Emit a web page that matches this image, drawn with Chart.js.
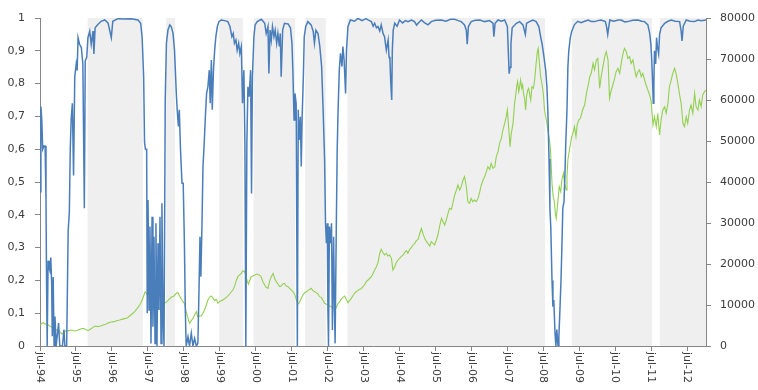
<!DOCTYPE html>
<html>
<head>
<meta charset="utf-8">
<script src="https://cdn.jsdelivr.net/npm/chart.js@4.4.1/dist/chart.umd.min.js"></script>
<style>
html,body{margin:0;padding:0;background:#ffffff;}
#wrap{width:758px;height:390px;position:relative;}
</style>
</head>
<body>
<div id="wrap"><canvas id="c" width="758" height="390"></canvas></div>
<script>
// x unit: months since July 1994
const xTickMonths = [0,12,24,36,48,60,72,84,96,108,120,132,144,156,168,180,192,204,216];
const xTickLabels = ['jul-94','jul-95','jul-96','jul-97','jul-98','jul-99','jul-00','jul-01','jul-02','jul-03','jul-04','jul-05','jul-06','jul-07','jul-08','jul-09','jul-10','jul-11','jul-12'];
const xMaxMonth = 222.3;
const leftTickLabels = ['0','0,1','0,2','0,3','0,4','0,5','0,6','0,7','0,8','0,9','1'];
const rightTickLabels = ['0','10000','20000','30000','40000','50000','60000','70000','80000'];

// shaded regime periods (months since July 1994)
const bandStart = [15.8, 42.1, 59.8, 71.3, 88.5, 102.6, 177.5, 206.9];
const bandEnd   = [34.3, 45.1, 67.7, 85.1, 95.4, 168.6, 204.3, 222.3];

// blue series (left axis): [month, value]
const blueSeries = [
[0,0.47],[0.3,0.73],[0.6,0.69],[0.9,0.6],[1.3,0.61],[1.7,0.61],[2.0,0.45],[2.2,0.18],[2.4,0],[2.7,0.26],
[3.0,0.24],[3.3,0.23],[3.6,0.27],[3.9,0.19],[4.1,0.03],[4.4,0.21],[4.7,0],[5.0,0.09],[5.4,0],[6.2,0.07],
[6.6,0],[7.5,0],[8.0,0.05],[8.3,0],[8.9,0],
[9.4,0.35],[9.8,0.41],[10.1,0.6],[10.4,0.69],[10.8,0.74],[11.2,0.52],[11.6,0.82],[12.1,0.86],[12.4,0.84],[12.7,0.94],
[13.2,0.92],[13.8,0.91],[14.3,0.86],[14.8,0.42],[15.1,0.87],[15.6,0.88],[16.0,0.94],[16.6,0.96],[17.1,0.92],[17.7,0.96],
[18.0,0.89],[18.4,0.97],[19.3,0.98],[20.4,0.99],[21.6,0.994],[22.7,0.985],[23.2,0.965],[23.8,0.94],[24.3,0.99],[26.0,0.998],
[28.2,0.997],[30.4,0.998],[32.7,0.994],[33.6,0.984],[34.1,0.94],[34.6,0.82],[34.9,0.62],[35.2,0.6],[35.6,0.6],[35.8,0.1],
[36.05,0.445],[36.4,0.11],[36.7,0.364],[37.05,0.008],[37.4,0.394],[37.7,0.059],[38.05,0.333],[38.4,0.008],[38.7,0.374],[39.05,0],
[39.4,0.313],[39.7,0.11],[40.05,0.394],[40.4,0.008],[40.7,0.435],[41.05,0.11],[41.4,0],[41.8,0.75],[42.2,0.923],[42.7,0.963],
[43.3,0.979],[43.8,0.974],[44.4,0.953],[44.9,0.902],[45.5,0.77],[45.8,0.72],[46.2,0.669],[46.5,0.72],[46.9,0.598],[47.4,0.496],
[47.8,0.496],[48.2,0.313],[48.5,0.11],[48.8,0],[49.4,0.028],[49.9,0],[50.5,0.039],[51.05,0],[51.6,0.023],[52.2,0],
[52.7,0.008],[53.05,0.161],[53.4,0.333],[53.7,0.211],[54.05,0.364],[54.4,0.547],[54.7,0.598],[55.2,0.699],[55.6,0.77],[56.05,0.791],
[56.5,0.841],[56.8,0.74],[57.2,0.872],[57.5,0.72],[57.9,0.841],[58.3,0.902],[58.7,0.943],[59.2,0.974],[59.7,0.989],[60.5,0.994],
[61.6,0.992],[62.7,0.989],[63.4,0.974],[64.05,0.943],[64.5,0.953],[64.9,0.923],[65.4,0.933],[65.8,0.902],[66.3,0.923],[66.7,0.892],
[67.2,0.913],[67.6,0.74],[68.05,0.841],[68.4,0.618],[68.7,0],[69.05,0.618],[69.4,0.79],[69.8,0.76],[70.3,0.841],[70.6,0.465],
[70.9,0.821],[71.4,0.943],[71.8,0.979],[72.5,0.989],
[73.9,0.996],[75.0,0.984],[75.5,0.953],[76.1,0.974],[76.4,0.831],[76.8,0.963],[77.2,0.933],[77.6,0.974],[78.1,0.943],[78.5,0.963],
[79.0,0.923],[79.4,0.953],[79.9,0.913],[80.2,0.953],[80.5,0.821],[81.0,0.963],[81.6,0.984],[82.8,0.982],[83.6,0.97],[84.1,0.923],
[84.4,0.841],[84.8,0.689],[85.1,0.77],[85.5,0.74],[85.9,0],[86.2,0.72],[86.5,0.628],[86.9,0.699],[87.2,0.547],[87.5,0.699],
[87.9,0.821],[88.2,0.943],[88.7,0.974],[89.4,0.989],[90.5,0.979],[91.2,0.959],[91.6,0.923],[92.1,0.963],[92.8,0.953],[93.4,0.913],
[94.0,0.852],[94.5,0.72],[95.0,0.567],[95.3,0.374],[95.6,0.313],[95.9,0.374],[96.1,0.11],[96.3,0],[96.6,0.364],[97.0,0.313],
[97.3,0.374],[97.6,0.049],[98.0,0.333],[98.3,0.11],[98.5,0.008],[98.9,0.364],[99.2,0.598],[99.5,0.72],[99.9,0.841],[100.3,0.892],
[100.8,0.852],[101.1,0.913],[101.5,0.872],[102.0,0.77],[102.3,0.902],[102.8,0.974],[103.6,0.994],[105.0,0.99],[106.1,0.999],[107.5,0.992],
[108.8,0.998],
[109.5,0.994],[110.6,0.989],[111.2,0.975],[111.7,0.984],[112.3,0.97],[112.8,0.974],[113.4,0.96],[113.9,0.979],[114.5,0.953],[115.0,0.943],
[115.6,0.902],[116.2,0.933],[116.5,0.882],[116.8,0.872],[117.1,0.8],[117.4,0.75],[117.6,0.902],[117.9,0.963],[118.4,0.984],[119.2,0.975],
[120.0,0.994],[121.0,0.985],[122.0,0.992],[122.8,0.989],[124.0,0.994],[125.0,0.989],[125.7,0.978],[126.2,0.984],[127.3,0.994],[128.3,0.986],
[129.5,0.979],[130.6,0.989],[132.0,0.993],[133.9,0.994],[135.5,0.99],[137.0,0.996],[138.4,0.996],[139.6,0.992],[140.6,0.989],[141.7,0.979],
[142.3,0.963],[142.6,0.92],[143.0,0.974],[143.9,0.989],[145.3,0.993],[146.8,0.994],
[148.4,0.989],[150.0,0.992],[151.2,0.984],[151.5,0.943],[151.9,0.984],[152.9,0.994],[154.0,0.99],[155.1,0.994],[156.0,0.974],[156.3,0.902],
[156.6,0.83],[156.9,0.85],[157.2,0.923],[157.6,0.97],[159.0,0.984],[160.1,0.989],[161.2,0.979],[162.0,0.95],[162.4,0.984],[163.4,0.989],
[164.5,0.994],[165.6,0.989],[166.5,0.974],[167.1,0.943],[167.6,0.92],[168.2,0.882],[168.8,0.84],[169.2,0.79],[169.5,0.72],[169.9,0.57],
[170.2,0.42],[170.5,0.36],[170.9,0.2],[171.2,0.12],[171.5,0.14],[171.9,0.04],[172.2,0],[172.5,0.05],[172.9,0],[173.2,0.03],
[173.5,0.1],[173.9,0.2],[174.2,0.3],[174.5,0.42],[174.9,0.44],[175.2,0.52],[175.5,0.62],[175.9,0.72],[176.2,0.85],[176.5,0.9],
[177.0,0.94],[177.5,0.96],[178.4,0.98],[179.5,0.99],[180.6,0.986],[181.8,0.99],[183.0,0.994],
[184.0,0.989],[185.1,0.989],[186.2,0.992],[187.3,0.994],[188.7,0.989],[189.1,0.974],[189.5,0.95],[189.8,0.97],[190.2,0.994],[191.5,0.99],
[193.0,0.994],[194.0,0.994],[195.2,0.988],[196.2,0.989],[197.8,0.993],[199.6,0.994],[200.8,0.99],[201.8,0.989],[202.9,0.979],[203.5,0.953],
[203.9,0.92],[204.2,0.87],[204.5,0.8],[204.7,0.74],[204.9,0.8],[205.1,0.9],[205.5,0.86],[205.8,0.94],[206.1,0.91],[206.5,0.89],
[206.8,0.95],[207.3,0.97],[208.5,0.984],[209.6,0.99],[210.7,0.994],[212.0,0.99],[213.5,0.989],[214.0,0.96],[214.3,0.93],[214.7,0.975],
[215.7,0.994],[217.0,0.99],[218.5,0.989],[219.6,0.994],[220.7,0.992],[222.3,0.994]
];

// green series (right axis): [month, value]
const greenSeries = [
[0,5120],[1.0,5690],[1.8,5370],[2.7,5120],[3.6,4720],[4.3,4310],[5.1,4070],[5.8,3740],[6.6,3500],[7.3,2930],
[8.0,3250],[8.7,3740],[9.6,3740],[10.4,3900],[11.6,3660],[12.7,3900],[13.6,4150],[14.3,4310],[15.1,4070],[16.0,3740],
[16.9,4150],[17.7,4550],[18.4,4880],[19.3,4720],[20.2,4880],[21.1,5120],[22.1,5370],[22.9,5690],[23.8,5850],[24.7,5940],
[25.6,6180],[26.6,6340],[27.3,6500],[28.2,6670],[29.1,6830],[29.9,7320],[30.7,7810],[31.6,8370],[32.2,8940],[32.9,9590],
[33.6,10410],[34.1,11220],[34.7,12440],[35.1,13250],[35.6,12850],
[36.05,12030],[36.7,12200],[37.4,12440],[38.05,11870],[38.5,11220],[39.0,9430],[39.4,8940],[40.0,9350],[40.5,9590],[41.05,10000],
[41.6,10410],[42.2,10730],[42.7,11060],[43.3,11540],[43.8,11870],[44.7,12200],[45.5,12850],[46.05,13010],[46.6,12200],[47.2,11380],
[47.7,10810],[48.3,10240],[48.8,8370],[49.4,6750],[49.9,5530],[50.5,6180],[51.05,6750],[51.6,7560],[52.2,8370],[52.7,7150],
[53.3,7320],[53.8,7320],[54.4,7970],[54.9,8780],[55.5,10000],[56.05,11220],[56.6,11870],[57.2,12200],[57.7,11710],[58.3,11060],
[58.8,11380],[59.4,10410],[59.9,10810],[60.5,11060],[61.05,11220],[61.6,11540],[62.2,11870],[62.7,12200],[63.3,12680],[63.8,13170],
[64.4,13660],[64.9,14470],[65.5,15930],[66.05,16910],[66.6,17320],[67.2,17720],[67.7,18370],[68.3,18130],[68.8,16910],[69.2,15690],
[69.6,15120],[70.05,16100],[70.5,16910],[71.05,17070],[71.6,17320],[72.5,17560],
[73.7,17070],[74.4,15690],[75.0,14880],[75.5,14310],[76.1,14070],[76.6,15690],[77.2,16910],[77.8,17720],[78.3,16500],[78.9,15690],
[79.4,15120],[80.0,14470],[80.5,14630],[81.1,15120],[81.6,15280],[82.2,14630],[82.8,14470],[83.3,14070],[83.9,13660],[84.4,13250],
[85.0,12680],[85.5,11380],[86.1,10240],[86.7,10810],[87.2,11630],[87.8,12440],[88.3,13010],[88.9,13250],[89.4,13500],[90.0,13820],
[90.5,14070],[91.1,13500],[91.7,13250],[92.2,13010],[92.8,12680],[93.3,12030],[93.9,11870],[94.4,11220],[95.0,10410],[95.6,10160],
[96.1,10000],[96.7,9760],[97.2,9590],[97.8,9190],[98.3,8940],[98.9,9430],[99.4,10240],[100.0,10810],[100.5,11380],[101.1,11870],
[101.7,12200],[102.2,11380],[102.8,10570],[103.3,11060],[103.9,11630],[104.4,12200],[105.0,12850],[105.5,13250],[106.1,13500],[106.7,13820],
[107.2,13980],[107.8,14470],[108.3,14880],[108.9,15690],
[109.5,16100],[110.6,16910],[111.2,17720],[111.7,18540],[112.3,19350],[112.8,20330],[113.4,22600],[113.9,23580],[114.5,22760],[115.0,22200],
[115.6,22600],[116.1,21950],[116.7,22200],[117.3,21380],[117.8,18540],[118.4,19350],[118.9,20330],[119.5,20980],[120.0,21380],[120.6,21790],
[121.2,22200],[121.7,22760],[122.3,23250],[122.8,22600],[123.4,23580],[124.0,24070],[124.5,24630],[125.1,25040],[125.6,25690],[126.2,26020],
[126.7,27320],[127.3,28700],[127.8,27480],[128.4,26260],[129.0,25450],[129.5,25040],[130.1,24390],[130.6,25450],[131.2,25040],[131.7,24630],
[132.3,25850],[132.8,27070],[133.4,29270],[134.0,31140],[134.5,30330],[135.1,29510],[135.6,30730],[136.2,32360],[136.7,33580],[137.3,33330],
[137.8,34800],[138.4,36830],[139.0,38050],[139.5,39270],[140.1,38050],[140.6,38860],[141.2,40490],[141.7,41300],[142.3,38860],[142.8,35200],
[143.4,34800],[143.9,36020],[144.5,35200],[145.0,35610],[145.6,35200],
[146.2,36000],[146.8,37640],[147.3,39270],[147.9,40490],[148.4,41300],[149.0,42520],[149.5,43740],[150.1,43090],[150.6,44550],[151.2,43330],
[151.8,43740],[152.3,46180],[152.9,47400],[153.4,49430],[154.0,50650],[154.5,52680],[155.1,54310],[155.6,55930],[156.0,57560],[156.4,53500],
[156.9,48620],[157.3,51870],[157.9,54310],[158.4,59190],[158.8,61220],[159.1,63250],[159.4,64470],[159.8,62030],[160.1,63250],[160.4,64880],
[160.8,62850],[161.1,63660],[161.4,61630],[161.8,60000],[162.1,57560],[162.4,60810],[162.8,62440],[163.1,62850],[163.4,61630],[163.8,60000],
[164.2,63250],[164.7,62850],[165.1,64880],[165.6,68940],[166.0,71790],[166.3,72600],[166.7,68940],[167.1,65690],[167.6,63660],[168.0,61630],
[168.4,57560],[169.0,55120],[169.6,52280],[170.1,49840],[170.4,47810],[170.9,39670],[171.3,36420],[171.7,35200],[172.0,32360],[172.3,31140],
[172.7,33980],[173.0,36420],[173.3,38860],[173.8,37640],[174.2,40490],[174.7,42110],[175.1,39670],[175.6,38050],[175.9,41300],[176.2,45370],
[176.7,47810],[177.1,49430],[177.5,51060],[178.0,52280],[178.4,53500],[178.9,51060],[179.3,53900],[179.8,55120],[180.4,55530],[181.1,57560],
[181.8,58780],[182.4,61630],[183.1,64060],[183.5,65690],
[184.0,66500],[184.6,68940],[185.1,67320],[185.7,69760],[186.2,70160],[186.8,62850],[187.3,65690],[187.9,68130],[188.5,70570],[189.0,71790],
[189.6,69760],[190.1,60410],[190.7,62440],[191.2,63660],[191.8,65280],[192.3,66910],[192.9,67720],[193.5,66500],[194.0,68940],[194.6,71380],
[195.1,72600],[195.7,71790],[196.2,70160],[196.8,70570],[197.3,68940],[197.9,69760],[198.5,67320],[199.0,65690],[199.6,66910],[200.1,67320],
[200.7,65690],[201.2,66500],[201.8,64880],[202.3,63660],[202.9,62440],[203.5,61220],[204.0,59590],[204.6,53900],[205.1,55930],[205.7,53500],
[206.2,56750],[206.8,51460],[207.3,55120],[207.9,57560],[208.5,58370],[209.0,56750],[209.6,59190],[210.1,63250],[210.7,64880],[211.2,66500],
[211.8,67720],[212.3,66500],[212.9,64060],[213.5,61220],[214.0,59190],[214.6,54310],[215.1,53500],[215.7,55930],[216.2,54310],[216.8,57560],
[217.3,58780],[217.9,56750],[218.5,61630],[219.0,58370],[219.6,57560],[220.1,60000],[220.7,58370],[221.2,61220],[221.8,62030],[222.3,62440]
];

const textColor = '#3c3c3c';
const axisColor = '#868686';
const fontFamily = '"DejaVu Sans", Verdana, sans-serif';

Chart.defaults.font.family = fontFamily;
Chart.defaults.font.size = 11;
Chart.defaults.color = textColor;

// band rectangles built from bandStart/bandEnd
const bandPoints = [];
bandStart.forEach((s, i) => {
  const e = bandEnd[i];
  bandPoints.push({x: s, y: 0}, {x: s, y: 1}, {x: e, y: 1}, {x: e, y: 0});
});

const xLabelPlugin = {
  id: 'xLabels',
  afterDraw(chart) {
    const ctx = chart.ctx;
    const xs = chart.scales.x;
    const top = chart.chartArea.bottom + 6;
    ctx.save();
    ctx.font = '11px ' + fontFamily;
    ctx.fillStyle = textColor;
    ctx.textAlign = 'left';
    ctx.textBaseline = 'middle';
    xTickMonths.forEach((m, i) => {
      const px = xs.getPixelForValue(m);
      ctx.save();
      ctx.translate(px, top);
      ctx.rotate(Math.PI / 2);
      ctx.fillText(xTickLabels[i], 0, 0);
      ctx.restore();
    });
    ctx.restore();
  }
};

new Chart(document.getElementById('c'), {
  type: 'line',
  data: {
    datasets: [
      {
        label: 'blue',
        data: blueSeries.map(p => ({x: p[0], y: p[1]})),
        yAxisID: 'y',
        borderColor: '#4A7EBB',
        borderWidth: 1.5,
        pointRadius: 0,
        tension: 0,
        fill: false,
        order: 1
      },
      {
        label: 'green',
        data: greenSeries.map(p => ({x: p[0], y: p[1]})),
        yAxisID: 'y2',
        borderColor: '#92D050',
        borderWidth: 1.1,
        pointRadius: 0,
        tension: 0,
        fill: false,
        order: 2
      },
      {
        label: 'bands',
        data: bandPoints,
        yAxisID: 'y',
        borderWidth: 0,
        borderColor: 'rgba(0,0,0,0)',
        backgroundColor: '#EFEFEF',
        pointRadius: 0,
        tension: 0,
        fill: 'origin',
        order: 3
      }
    ]
  },
  options: {
    responsive: false,
    animation: false,
    events: [],
    layout: {padding: {top: 18, left: 0, right: 0, bottom: 0}},
    plugins: {legend: {display: false}, tooltip: {enabled: false}},
    scales: {
      x: {
        type: 'linear',
        min: 0,
        max: xMaxMonth,
        afterBuildTicks: s => { s.ticks = xTickMonths.map(v => ({value: v})); },
        ticks: {display: false},
        grid: {drawOnChartArea: false, drawTicks: true, tickLength: 5, color: axisColor},
        border: {display: true, color: axisColor},
        afterFit: s => { s.height = 44; }
      },
      y: {
        type: 'linear',
        position: 'left',
        min: 0,
        max: 1,
        ticks: {stepSize: 0.1, padding: 10, callback: (v, i) => leftTickLabels[i]},
        grid: {drawOnChartArea: false, drawTicks: true, tickLength: 5, color: axisColor},
        border: {display: true, color: axisColor},
        afterFit: s => { s.width = 40; }
      },
      y2: {
        type: 'linear',
        position: 'right',
        min: 0,
        max: 80000,
        ticks: {stepSize: 10000, padding: 9, callback: (v, i) => rightTickLabels[i]},
        grid: {drawOnChartArea: false, drawTicks: true, tickLength: 5, color: axisColor},
        border: {display: true, color: axisColor},
        afterFit: s => { s.width = 52; }
      }
    }
  },
  plugins: [xLabelPlugin]
});
</script>
</body>
</html>
